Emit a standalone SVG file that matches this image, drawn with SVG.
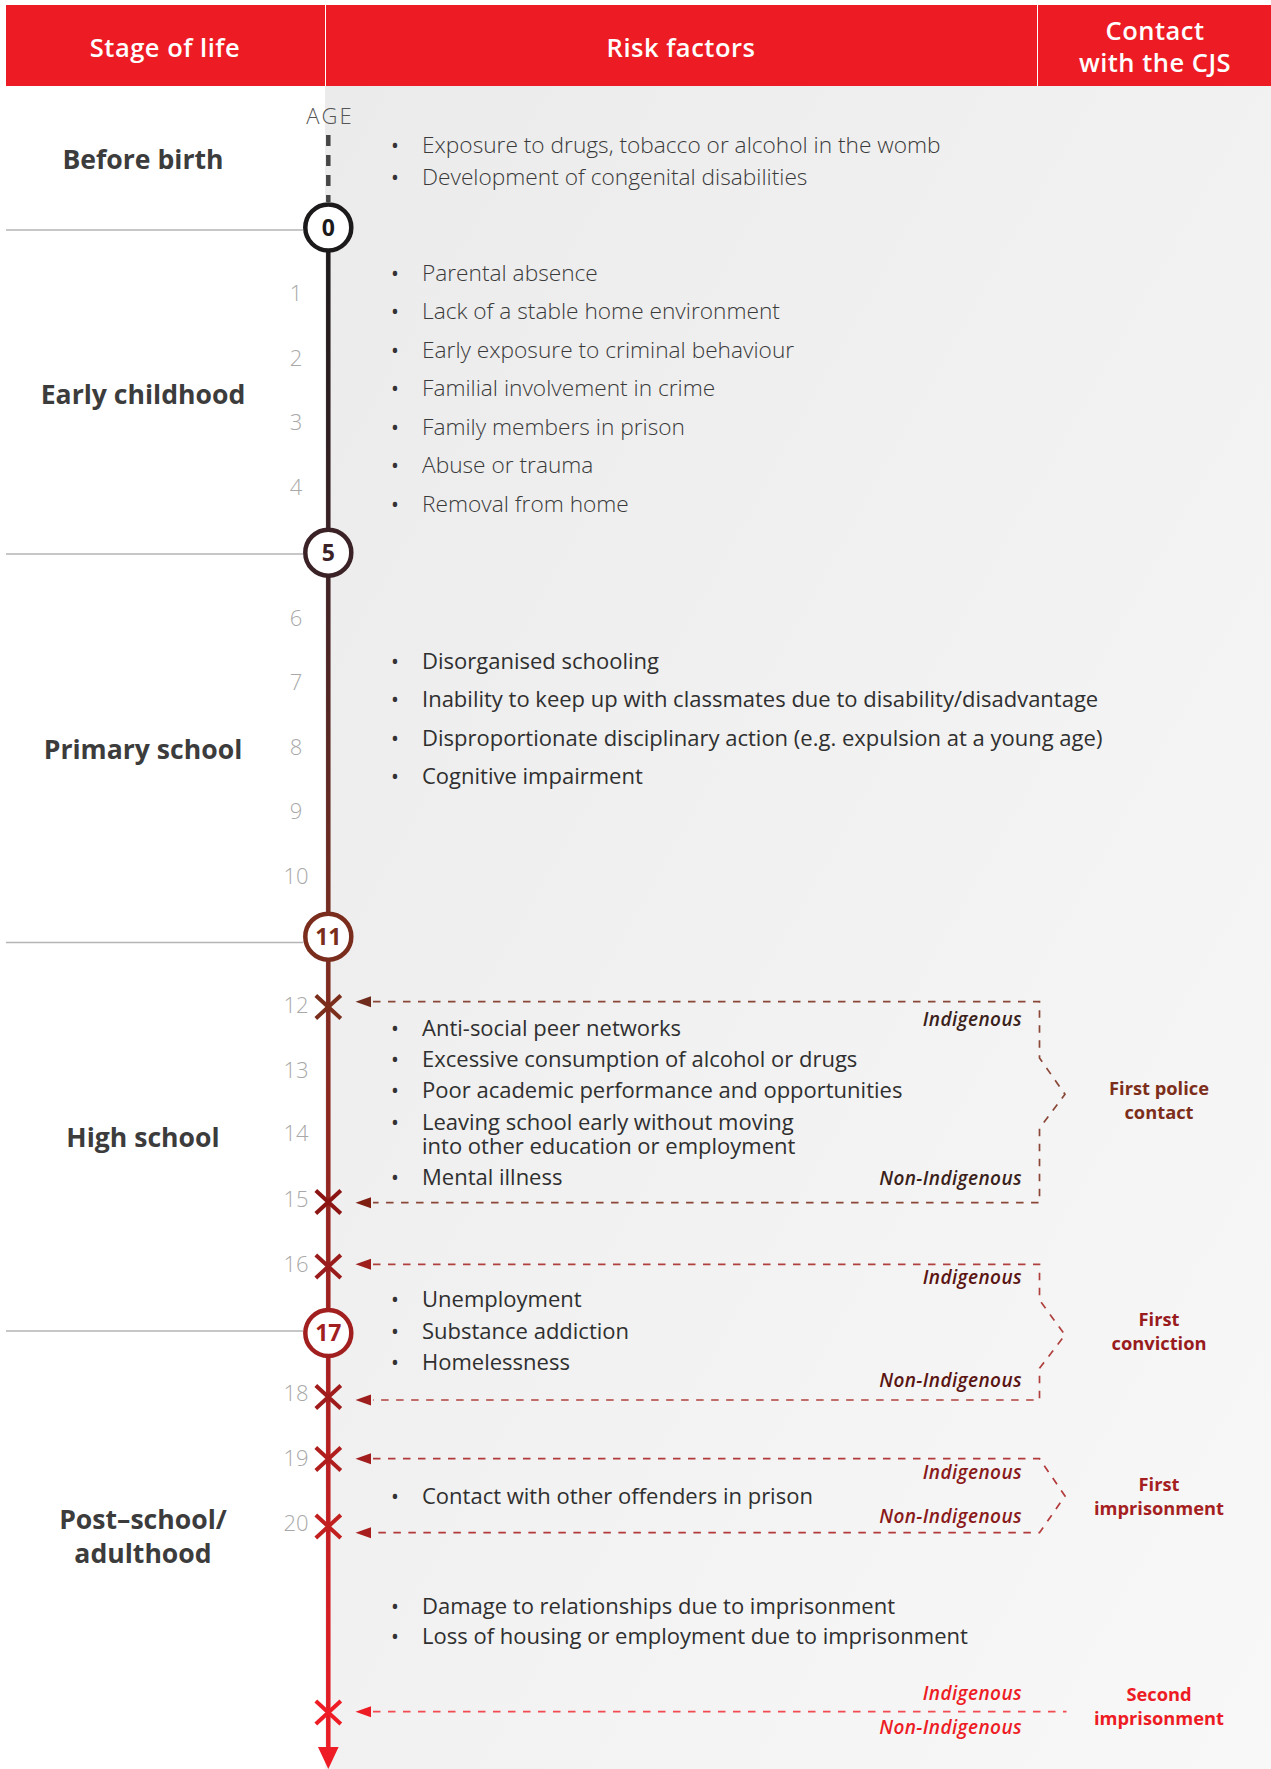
<svg xmlns="http://www.w3.org/2000/svg" width="1271" height="1769" viewBox="0 0 1271 1769">
<style>
text{font-family:"Open Sans","Liberation Sans",sans-serif}
.hd{font-size:25.5px;font-weight:600;fill:#fff;letter-spacing:0.5px;text-anchor:middle}
.stage{font-size:26.6px;font-weight:700;fill:#3c3c3c;text-anchor:middle}
.age{font-size:22px;font-weight:300;fill:#a8a8a8;text-anchor:middle}
.agelbl{font-size:22px;font-weight:300;fill:#555;text-anchor:middle;letter-spacing:2px}
.tl{font-size:22.7px;font-weight:300;fill:#3a3a3a}
.tr{font-size:22px;font-weight:400;fill:#2f2f2f}
.bl{font-size:21px;font-weight:400;fill:#333}
.num{font-size:23px;font-weight:700;text-anchor:middle}
.ind{font-size:19px;font-weight:600;font-style:italic;text-anchor:end;letter-spacing:0.4px}
.cjs{font-size:18.3px;font-weight:700;text-anchor:middle}
.sep{stroke:#b5b5b5;stroke-width:1.5;fill:none}
.dash{fill:none;stroke-width:1.7;stroke-dasharray:7.5 7.5}
.xm{fill:none;stroke-width:4}
</style>
<defs>
<linearGradient id="bg" x1="0" y1="0" x2="1" y2="1">
<stop offset="0" stop-color="#ebebeb"/>
<stop offset="1" stop-color="#f8f8f8"/>
</linearGradient>
<linearGradient id="tlg" gradientUnits="userSpaceOnUse" x1="0" y1="227" x2="0" y2="1768">
<stop offset="0" stop-color="#1c1a1b"/>
<stop offset="0.211" stop-color="#3b2226"/>
<stop offset="0.461" stop-color="#7a2d20"/>
<stop offset="0.717" stop-color="#a2201f"/>
<stop offset="1" stop-color="#ee1c25"/>
</linearGradient>
<path id="ah" d="M0,0 L15.5,-5.5 L15.5,5.5 Z"/>
<path id="xx" d="M-12.5,-11.5 L12.5,11.5 M12.5,-11.5 L-12.5,11.5"/>
</defs>

<rect x="0" y="0" width="1271" height="1769" fill="#fff"/>
<rect x="325" y="86" width="946" height="1683" fill="url(#bg)"/>

<g id="header">
<g id="h-stage"><rect x="6" y="5" width="319" height="81" fill="#ed1c24"/><text class="hd" x="165" y="56.5">Stage of life</text></g>
<g id="h-risk"><rect x="326" y="5" width="711" height="81" fill="#ed1c24"/><text class="hd" x="681" y="56.5">Risk factors</text></g>
<g id="h-cjs"><rect x="1038" y="5" width="233" height="81" fill="#ed1c24"/><text class="hd" x="1155" y="39.5">Contact<tspan x="1155" dy="32">with the CJS</tspan></text></g>
</g>

<g id="separators">
<line class="sep" x1="6" y1="230" x2="303" y2="230"/>
<line class="sep" x1="6" y1="554" x2="303" y2="554"/>
<line class="sep" x1="6" y1="942.5" x2="303" y2="942.5"/>
<line class="sep" x1="6" y1="1331" x2="303" y2="1331"/>
</g>

<g id="stages">
<text class="stage" x="143" y="169">Before birth</text>
<text class="stage" x="143" y="403.5">Early childhood</text>
<text class="stage" x="143" y="759">Primary school</text>
<text class="stage" x="143" y="1147">High school</text>
<text class="stage" x="143" y="1529">Post–school/<tspan x="143" dy="33.5">adulthood</tspan></text>
</g>

<g id="connectors">
<line x1="328.3" y1="135" x2="328.3" y2="202" stroke="#454545" stroke-width="4.5" stroke-dasharray="11 9"/>
<line x1="328.3" y1="227" x2="328.3" y2="1750" stroke="url(#tlg)" stroke-width="4.5"/>
<path d="M318,1747 L338.6,1747 L328.3,1769 Z" fill="#ee1c25"/>
<path class="dash" stroke="#8a4636" d="M373,1001.7 H1039.5 V1058 L1065,1094.3 L1039.5,1128.3 V1202.7 H373"/>
<path class="dash" stroke="#b0403d" d="M373,1264.3 H1039.5 V1300 L1065,1335 L1039.5,1368.3 V1400 H373"/>
<path class="dash" stroke="#b23a3a" d="M373,1458.7 H1039.5 L1065,1496 L1039.5,1532.7 H373"/>
<path class="dash" stroke="#f24a50" d="M373,1711.7 H1066.5"/>
<use href="#ah" x="355.5" y="1001.7" fill="#6f2b1b"/>
<use href="#ah" x="355.5" y="1202.7" fill="#7e1f12"/>
<use href="#ah" x="355.5" y="1264.3" fill="#9e1d1d"/>
<use href="#ah" x="355.5" y="1400" fill="#9e1d1d"/>
<use href="#ah" x="355.5" y="1458.7" fill="#a21d1d"/>
<use href="#ah" x="355.5" y="1532.7" fill="#a81e1e"/>
<use href="#ah" x="355.5" y="1711.7" fill="#ed1c24"/>
</g>

<g id="ages">
<text class="agelbl" x="330" y="124">AGE</text>
<text class="age" x="296" y="301.2">1</text>
<text class="age" x="296" y="366.2">2</text>
<text class="age" x="296" y="429.6">3</text>
<text class="age" x="296" y="494.6">4</text>
<text class="age" x="296" y="625.6">6</text>
<text class="age" x="296" y="689.6">7</text>
<text class="age" x="296" y="754.6">8</text>
<text class="age" x="296" y="818.9">9</text>
<text class="age" x="296" y="883.9">10</text>
<text class="age" x="296" y="1012.9">12</text>
<text class="age" x="296" y="1077.9">13</text>
<text class="age" x="296" y="1141.2">14</text>
<text class="age" x="296" y="1207.2">15</text>
<text class="age" x="296" y="1272.2">16</text>
<text class="age" x="296" y="1401.2">18</text>
<text class="age" x="296" y="1466.2">19</text>
<text class="age" x="296" y="1531.2">20</text>
</g>

<g id="marks">
<use href="#xx" class="xm" x="328.3" y="1007" stroke="#7a2e1b"/>
<use href="#xx" class="xm" x="328.3" y="1202" stroke="#8c1413"/>
<use href="#xx" class="xm" x="328.3" y="1266.5" stroke="#9a1b1b"/>
<use href="#xx" class="xm" x="328.3" y="1397" stroke="#a01c1c"/>
<use href="#xx" class="xm" x="328.3" y="1459" stroke="#b01e1e"/>
<use href="#xx" class="xm" x="328.3" y="1526.5" stroke="#c2201f"/>
<use href="#xx" class="xm" x="328.3" y="1712.5" stroke="#ee1c25"/>
</g>

<g id="m0"><circle cx="328.3" cy="227.5" r="23" fill="#fff" stroke="#1c1a1b" stroke-width="4.5"/><text class="num" x="328.3" y="235.7" fill="#1c1a1b">0</text></g>
<g id="m5"><circle cx="328.3" cy="552.7" r="23" fill="#fff" stroke="#3b2226" stroke-width="4.5"/><text class="num" x="328.3" y="560.9" fill="#3b2226">5</text></g>
<g id="m11"><circle cx="328.3" cy="936.7" r="23" fill="#fff" stroke="#7a2d1c" stroke-width="4.5"/><text class="num" x="328.3" y="944.9" fill="#7a2d1c">11</text></g>
<g id="m17"><circle cx="328.3" cy="1333" r="23" fill="#fff" stroke="#a1201f" stroke-width="4.5"/><text class="num" x="328.3" y="1341.2" fill="#a1201f">17</text></g>

<g id="risk-before-birth">
<text class="bl" x="391" y="152.5">•</text><text class="tl" x="422" y="152.5">Exposure to drugs, tobacco or alcohol in the womb</text>
<text class="bl" x="391" y="184.5">•</text><text class="tl" x="422" y="184.5">Development of congenital disabilities</text>
</g>
<g id="risk-early-childhood">
<text class="bl" x="391" y="280.5">•</text><text class="tl" x="422" y="280.5">Parental absence</text>
<text class="bl" x="391" y="319">•</text><text class="tl" x="422" y="319">Lack of a stable home environment</text>
<text class="bl" x="391" y="357.5">•</text><text class="tl" x="422" y="357.5">Early exposure to criminal behaviour</text>
<text class="bl" x="391" y="396">•</text><text class="tl" x="422" y="396">Familial involvement in crime</text>
<text class="bl" x="391" y="434.5">•</text><text class="tl" x="422" y="434.5">Family members in prison</text>
<text class="bl" x="391" y="473">•</text><text class="tl" x="422" y="473">Abuse or trauma</text>
<text class="bl" x="391" y="511.5">•</text><text class="tl" x="422" y="511.5">Removal from home</text>
</g>
<g id="risk-primary">
<text class="bl" x="391" y="669">•</text><text class="tr" x="422" y="669">Disorganised schooling</text>
<text class="bl" x="391" y="707">•</text><text class="tr" x="422" y="707">Inability to keep up with classmates due to disability/disadvantage</text>
<text class="bl" x="391" y="746">•</text><text class="tr" x="422" y="746">Disproportionate disciplinary action (e.g. expulsion at a young age)</text>
<text class="bl" x="391" y="784">•</text><text class="tr" x="422" y="784">Cognitive impairment</text>
</g>
<g id="risk-high-school">
<text class="bl" x="391" y="1036">•</text><text class="tr" x="422" y="1036">Anti-social peer networks</text>
<text class="bl" x="391" y="1067">•</text><text class="tr" x="422" y="1067">Excessive consumption of alcohol or drugs</text>
<text class="bl" x="391" y="1097.5">•</text><text class="tr" x="422" y="1097.5">Poor academic performance and opportunities</text>
<text class="bl" x="391" y="1130">•</text><text class="tr" x="422" y="1130">Leaving school early without moving<tspan x="422" dy="24">into other education or employment</tspan></text>
<text class="bl" x="391" y="1185">•</text><text class="tr" x="422" y="1185">Mental illness</text>
</g>
<g id="risk-late-teens">
<text class="bl" x="391" y="1307">•</text><text class="tr" x="422" y="1307">Unemployment</text>
<text class="bl" x="391" y="1338.5">•</text><text class="tr" x="422" y="1338.5">Substance addiction</text>
<text class="bl" x="391" y="1370">•</text><text class="tr" x="422" y="1370">Homelessness</text>
</g>
<g id="risk-prison">
<text class="bl" x="391" y="1503.5">•</text><text class="tr" x="422" y="1503.5">Contact with other offenders in prison</text>
</g>
<g id="risk-post-prison">
<text class="bl" x="391" y="1613.5">•</text><text class="tr" x="422" y="1613.5">Damage to relationships due to imprisonment</text>
<text class="bl" x="391" y="1643.5">•</text><text class="tr" x="422" y="1643.5">Loss of housing or employment due to imprisonment</text>
</g>

<g id="police-contact">
<text class="ind" x="1022" y="1025.8" fill="#3b1f1a">Indigenous</text>
<text class="ind" x="1022" y="1184.8" fill="#3b1f1a">Non-Indigenous</text>
<text class="cjs" x="1159" y="1095" fill="#7d2e1b">First police<tspan x="1159" dy="24">contact</tspan></text>
</g>
<g id="conviction">
<text class="ind" x="1022" y="1284.2" fill="#5a1412">Indigenous</text>
<text class="ind" x="1022" y="1386.5" fill="#5a1412">Non-Indigenous</text>
<text class="cjs" x="1159" y="1325.5" fill="#981b1e">First<tspan x="1159" dy="24">conviction</tspan></text>
</g>
<g id="imprisonment">
<text class="ind" x="1022" y="1479.2" fill="#8a1a1a">Indigenous</text>
<text class="ind" x="1022" y="1523.2" fill="#8a1a1a">Non-Indigenous</text>
<text class="cjs" x="1159" y="1490.5" fill="#a51f22">First<tspan x="1159" dy="24">imprisonment</tspan></text>
</g>
<g id="second-imprisonment">
<text class="ind" x="1022" y="1699.8" fill="#ed1c24">Indigenous</text>
<text class="ind" x="1022" y="1734.2" fill="#ed1c24">Non-Indigenous</text>
<text class="cjs" x="1159" y="1700.8" fill="#ed1c24">Second<tspan x="1159" dy="23.7">imprisonment</tspan></text>
</g>
</svg>
